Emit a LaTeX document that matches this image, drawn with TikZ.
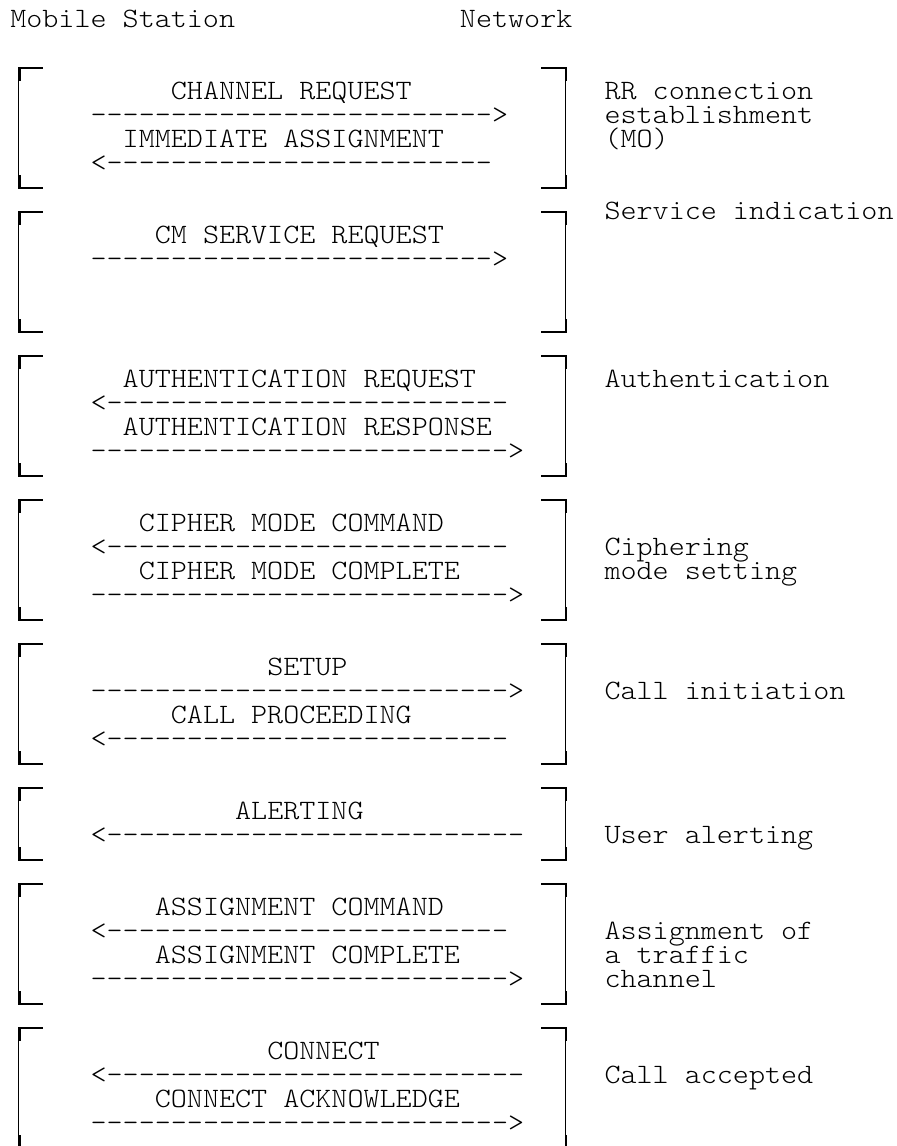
\documentclass[tikz,border=0pt]{standalone}
\usepackage{fontspec}
\setmonofont{lmmonolt10-regular.otf}[FakeStretch=1.09]
\newcommand\dsh[1]{\ifnum#1>0 -\expandafter\dsh\expandafter{\the\numexpr#1-1\relax}\fi}
\tikzset{
  mono/.style={font=\ttfamily\fontsize{14.03pt}{16pt}\selectfont, anchor=base west, inner sep=0pt, outer sep=0pt, text=black},
  hl/.style={line width=0.85pt, black},
  vl/.style={line width=0.5pt, black},
  stub/.style={line width=1.1pt, black}
}
\newcommand\tx[4]{\node[mono] (#1) at ({10.3+16.06*#2},{27.3+24*#3}) {#4};}
\newcommand\brk[2]{%
  \pgfmathsetmacro\yt{20.1+24*#1}\pgfmathsetmacro\yb{20.1+24*#2}%
  \draw[hl] (42.7,\yt) -- (18.3,\yt);
  \draw[hl] (42.7,\yb) -- (18.3,\yb);
  \draw[vl] (18.8,\yt) -- (18.8,\yb);
  \draw[stub] (19.5,\yt) -- ++(0,13);
  \draw[stub] (19.5,\yb) -- ++(0,-13);
  \draw[hl] (541,\yt) -- (566.5,\yt);
  \draw[hl] (541,\yb) -- (566.5,\yb);
  \draw[vl] (565.3,\yt) -- (565.3,\yb);
  \draw[stub] (565.7,\yt) -- ++(0,13);
  \draw[stub] (565.7,\yb) -- ++(0,-13);
}
\begin{document}
\begin{tikzpicture}[x=0.5pt,y=-0.5pt]
\fill[white] (0,0) rectangle (896,1146);
\useasboundingbox (0,0) rectangle (896,1146);
% headers
\tx{ms}{0}{0}{Mobile Station}
\tx{nw}{28}{0}{Network}
% block 1
\brk{2}{7}
\tx{m1}{10}{3}{CHANNEL REQUEST}
\tx{a1}{5}{4}{\dsh{25}>}
\tx{m2}{7}{5}{IMMEDIATE ASSIGNMENT}
\tx{a2}{5}{6}{<\dsh{24}}
\tx{l1a}{37}{3}{RR connection}
\tx{l1b}{37}{4}{establishment}
\tx{l1c}{37}{5}{(MO)}
% block 2
\brk{8}{13}
\tx{m3}{9}{9}{CM SERVICE REQUEST}
\tx{a3}{5}{10}{\dsh{25}>}
\tx{l2}{37}{8}{Service indication}
% block 3
\brk{14}{19}
\tx{m4}{7}{15}{AUTHENTICATION REQUEST}
\tx{a4}{5}{16}{<\dsh{25}}
\tx{m5}{7}{17}{AUTHENTICATION RESPONSE}
\tx{a5}{5}{18}{\dsh{26}>}
\tx{l3}{37}{15}{Authentication}
% block 4
\brk{20}{25}
\tx{m6}{8}{21}{CIPHER MODE COMMAND}
\tx{a6}{5}{22}{<\dsh{25}}
\tx{m7}{8}{23}{CIPHER MODE COMPLETE}
\tx{a7}{5}{24}{\dsh{26}>}
\tx{l4a}{37}{22}{Ciphering}
\tx{l4b}{37}{23}{mode setting}
% block 5
\brk{26}{31}
\tx{m8}{16}{27}{SETUP}
\tx{a8}{5}{28}{\dsh{26}>}
\tx{m9}{10}{29}{CALL PROCEEDING}
\tx{a9}{5}{30}{<\dsh{25}}
\tx{l5}{37}{28}{Call initiation}
% block 6
\brk{32}{35}
\tx{m10}{14}{33}{ALERTING}
\tx{a10}{5}{34}{<\dsh{26}}
\tx{l6}{37}{34}{User alerting}
% block 7
\brk{36}{41}
\tx{m11}{9}{37}{ASSIGNMENT COMMAND}
\tx{a11}{5}{38}{<\dsh{25}}
\tx{m12}{9}{39}{ASSIGNMENT COMPLETE}
\tx{a12}{5}{40}{\dsh{26}>}
\tx{l7a}{37}{38}{Assignment of}
\tx{l7b}{37}{39}{a traffic}
\tx{l7c}{37}{40}{channel}
% block 8
\brk{42}{47}
\tx{m13}{16}{43}{CONNECT}
\tx{a13}{5}{44}{<\dsh{26}}
\tx{m14}{9}{45}{CONNECT ACKNOWLEDGE}
\tx{a14}{5}{46}{\dsh{26}>}
\tx{l8}{37}{44}{Call accepted}
\end{tikzpicture}
\end{document}
